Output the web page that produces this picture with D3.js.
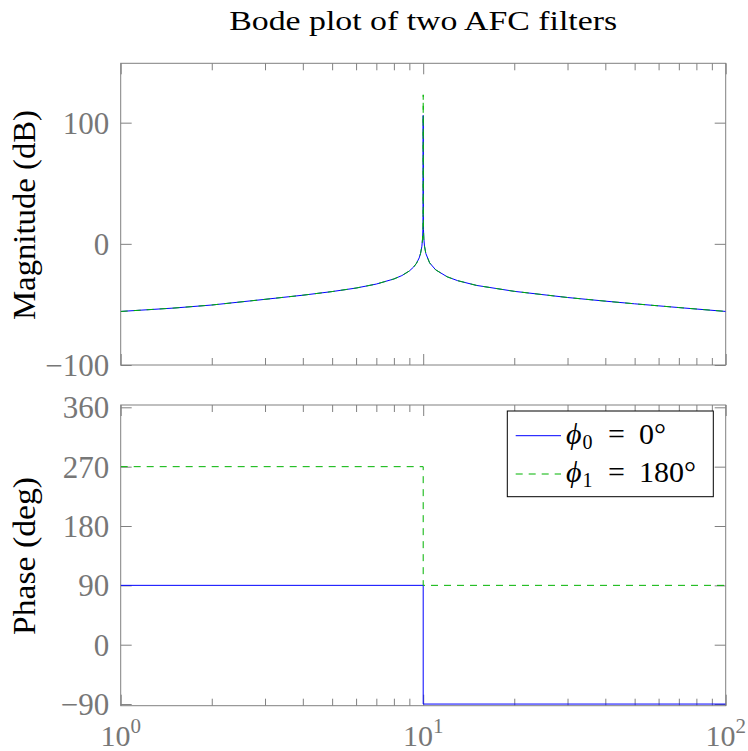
<!DOCTYPE html>
<html>
<head>
<meta charset="utf-8">
<script src="https://cdn.jsdelivr.net/npm/d3@7"></script>
<style>
  body { margin: 0; background: #fff; }
  svg { display: block; }
</style>
</head>
<body>
<svg id="chart" width="748" height="751"></svg>
<script>
// ---- data ----
var freq = [1, 1.5, 2, 3, 4, 5, 6, 7, 8, 8.5,
            9, 9.3, 9.5, 9.7, 9.8, 9.9, 9.95, 9.98, 9.99, 9.995,
            9.999, 10, 10.001, 10.005, 10.01, 10.02, 10.05, 10.1, 10.2, 10.5,
            11, 12, 13, 15, 20, 30, 40, 50, 70, 100];
var mag0 = [-55.8, -53.0, -50.5, -45.8, -42.4, -39.4, -36.5, -33.2, -29.0, -26.2,
            -22.4, -19.1, -16.1, -11.6, -8.0, -2.0, 4.1, 12.0, 18.1, 24.1,
            38, 106, 38, 24.1, 18.1, 12.0, 4.1, -1.9, -7.9, -15.7,
            -21.5, -27.2, -30.4, -34.3, -39.2, -44.3, -47.3, -49.5, -52.6, -55.8];
var mag1 = [-55.8, -53.0, -50.5, -45.8, -42.4, -39.4, -36.5, -33.2, -29.0, -26.2,
            -22.4, -19.1, -16.1, -11.6, -8.0, -2.0, 4.1, 12.0, 18.1, 24.1,
            38, 123, 38, 24.1, 18.1, 12.0, 4.1, -1.9, -7.9, -15.7,
            -21.5, -27.2, -30.4, -34.3, -39.2, -44.3, -47.3, -49.5, -52.6, -55.8];
var phaseFreq = [1, 10, 10, 100];
var phase0 = [90, 90, -90, -90];
var phase1 = [270, 270, 90, 90];

var magTicks = [-100, 0, 100];
var phaseTicks = [-90, 0, 90, 180, 270, 360];
var xMajor = [1, 10, 100];
var xMinor = [2, 3, 4, 5, 6, 7, 8, 9, 20, 30, 40, 50, 60, 70, 80, 90];
var xExp = ["0", "1", "2"];
var seriesNames = [["0", "0°"], ["1", "180°"]];

var title = "Bode plot of two AFC filters";
var magLabel = "Magnitude (dB)";
var phaseLabel = "Phase (deg)";

// ---- layout ----
var left = 120.7, right = 725.7;
var magTop = 63.3, magBot = 365;
var phTop = 405, phBot = 705.7;
var axisGray = "#808080";
var labelGray = "#777777";
var blue = "#0000ff";
var green = "#00b300";
var serif = "'Liberation Serif', 'Times New Roman', serif";

var svg = d3.select("#chart");

var x = d3.scaleLog().domain([1, 100]).range([left, right]);
var yMag = d3.scaleLinear().domain([-100, 149]).range([magBot, magTop]);
var yPh = d3.scaleLinear().domain([-92.5, 363.5]).range([phBot, phTop]);

// clip paths
var defs = svg.append("defs");
defs.append("clipPath").attr("id", "clipMag").append("rect")
    .attr("x", left).attr("y", magTop).attr("width", right - left).attr("height", magBot - magTop);
defs.append("clipPath").attr("id", "clipPh").append("rect")
    .attr("x", left).attr("y", phTop).attr("width", right - left).attr("height", phBot - phTop);

function drawFrame(yScale, top, bot, ticks) {
    var g = svg.append("g");
    // x minor / major ticks, bottom and top, pointing inside
    g.append("g").attr("transform", "translate(0," + bot + ")")
        .call(d3.axisBottom(x).tickValues(xMinor).tickSize(-7).tickFormat(""));
    g.append("g").attr("transform", "translate(0," + bot + ")")
        .call(d3.axisBottom(x).tickValues(xMajor).tickSize(-11).tickFormat(""));
    g.append("g").attr("transform", "translate(0," + top + ")")
        .call(d3.axisTop(x).tickValues(xMinor).tickSize(-7).tickFormat(""));
    g.append("g").attr("transform", "translate(0," + top + ")")
        .call(d3.axisTop(x).tickValues(xMajor).tickSize(-11).tickFormat(""));
    // y ticks, left with labels and right
    g.append("g").attr("class", "yleft").attr("transform", "translate(" + left + ",0)")
        .call(d3.axisLeft(yScale).tickValues(ticks).tickSize(-11).tickPadding(11.5)
              .tickFormat(function(d) { return d < 0 ? "\u2212" + Math.abs(d) : d; }));
    g.append("g").attr("transform", "translate(" + right + ",0)")
        .call(d3.axisRight(yScale).tickValues(ticks).tickSize(-11).tickFormat(""));

    g.selectAll(".domain").remove();
    g.selectAll(".tick line").attr("stroke", axisGray).attr("stroke-width", 1);
    g.selectAll(".yleft text")
        .attr("font-family", serif)
        .attr("font-size", 31)
        .attr("fill", labelGray)
        .attr("dy", "0.34em");

    svg.append("rect")
        .attr("x", left).attr("y", top)
        .attr("width", right - left).attr("height", bot - top)
        .attr("fill", "none").attr("stroke", axisGray).attr("stroke-width", 1);
}

drawFrame(yMag, magTop, magBot, magTicks);
drawFrame(yPh, phTop, phBot, phaseTicks);

// ---- magnitude curves ----
var magLine = d3.line()
    .x(function(d) { return x(d[0]); })
    .y(function(d) { return yMag(d[1]); });

svg.append("path")
    .datum(d3.zip(freq, mag0))
    .attr("clip-path", "url(#clipMag)")
    .attr("fill", "none").attr("stroke", blue).attr("stroke-width", 1)
    .attr("d", magLine);
svg.append("path")
    .datum(d3.zip(freq, mag1))
    .attr("clip-path", "url(#clipMag)")
    .attr("fill", "none").attr("stroke", green).attr("stroke-width", 1)
    .attr("stroke-dasharray", "7,6")
    .attr("d", magLine);

// ---- phase curves ----
var phLine = d3.line()
    .x(function(d) { return x(d[0]); })
    .y(function(d) { return yPh(d[1]); });

svg.append("path")
    .datum(d3.zip(phaseFreq, phase0))
    .attr("clip-path", "url(#clipPh)")
    .attr("fill", "none").attr("stroke", blue).attr("stroke-width", 1)
    .attr("d", phLine);
svg.append("path")
    .datum(d3.zip(phaseFreq, phase1))
    .attr("clip-path", "url(#clipPh)")
    .attr("fill", "none").attr("stroke", green).attr("stroke-width", 1)
    .attr("stroke-dasharray", "7,6")
    .attr("d", phLine);

// ---- x tick labels (10^n) ----
var xl = svg.append("g").attr("font-family", serif).attr("fill", labelGray);
xMajor.forEach(function(v, i) {
    var t = xl.append("text")
        .attr("x", x(v)).attr("y", 746)
        .attr("text-anchor", "middle")
        .attr("font-size", 30);
    t.append("tspan").text("10");
    t.append("tspan").attr("font-size", 21).attr("dy", -13).text(xExp[i]);
});

// ---- title and axis labels ----
svg.append("text")
    .attr("x", (left + right) / 2).attr("y", 30)
    .attr("text-anchor", "middle")
    .attr("font-family", serif).attr("font-size", 27)
    .attr("textLength", 388).attr("lengthAdjust", "spacingAndGlyphs")
    .attr("fill", "#000")
    .text(title);

svg.append("text")
    .attr("transform", "translate(35," + 215 + ") rotate(-90)")
    .attr("text-anchor", "middle")
    .attr("font-family", serif).attr("font-size", 31)
    .attr("textLength", 210).attr("lengthAdjust", "spacingAndGlyphs")
    .attr("fill", "#000")
    .text(magLabel);

svg.append("text")
    .attr("transform", "translate(35," + 556 + ") rotate(-90)")
    .attr("text-anchor", "middle")
    .attr("font-family", serif).attr("font-size", 31)
    .attr("textLength", 158).attr("lengthAdjust", "spacingAndGlyphs")
    .attr("fill", "#000")
    .text(phaseLabel);

// ---- legend ----
var lg = svg.append("g");
lg.append("rect")
    .attr("x", 507.3).attr("y", 411).attr("width", 206).attr("height", 85.7)
    .attr("fill", "#fff").attr("stroke", "#000").attr("stroke-width", 1);

var legendColors = [blue, green];
var legendDash = [null, "7,6"];
var rowLine = [435.7, 474];
var rowBase = [444.3, 481.5];
seriesNames.forEach(function(s, i) {
    lg.append("line")
        .attr("x1", 515.7).attr("x2", 561)
        .attr("y1", rowLine[i]).attr("y2", rowLine[i])
        .attr("stroke", legendColors[i]).attr("stroke-width", 1)
        .attr("stroke-dasharray", legendDash[i]);
    var t = lg.append("text")
        .attr("font-family", serif).attr("fill", "#000")
        .attr("font-size", 30).attr("y", rowBase[i]);
    t.append("tspan").attr("x", 566).attr("font-style", "italic").text("\u03d5");
    t.append("tspan").attr("dx", 1).attr("dy", 5).attr("font-size", 20).text(s[0]);
    t.append("tspan").attr("x", 608).attr("dy", -5).text("=");
    t.append("tspan").attr("x", 639).text(s[1]);
});
</script>
</body>
</html>
